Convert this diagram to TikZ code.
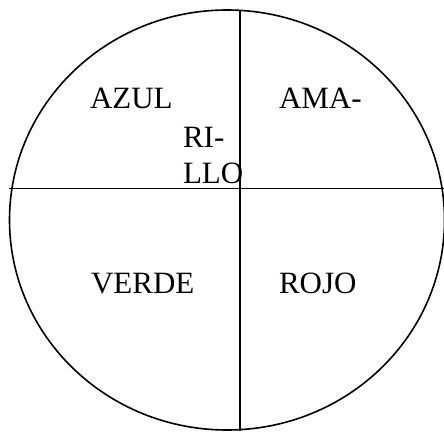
\documentclass[tikz,border=0pt]{standalone}
\usepackage{fontspec}
\setmainfont{Liberation Serif}
\begin{document}
\begin{tikzpicture}[x=1pt,y=1pt,
  lbl/.style={anchor=base west,inner sep=0pt,outer sep=0pt,font=\fontsize{31}{36}\selectfont},
  rim/.style={draw=black,line width=1.6pt},
  divider/.style={draw=black,line width=1.3pt}]
\useasboundingbox (0,0) rectangle (444,-431);
% circle
\draw[rim] (227,-220) ellipse [x radius=217.5, y radius=210];
% dividers
\coordinate (vtop) at (240,-10.5);
\coordinate (vbot) at (240,-431);
\coordinate (hl) at (9,-188.5);
\coordinate (hr) at (444,-188.5);
\draw[divider] (vtop) -- (vbot);
\draw[divider] (hl) -- (hr);
% labels
\node[lbl] (azul) at (90,-108.5) {AZUL};
\node[lbl] (ri) at (183,-147) {RI-};
\node[lbl] (llo) at (183,-183) {LLO};
\node[lbl] (ama) at (279,-108.5) {AMA-};
\node[lbl] (verde) at (91,-293.5) {VERDE};
\node[lbl] (rojo) at (279,-293.5) {ROJO};
\end{tikzpicture}
\end{document}
